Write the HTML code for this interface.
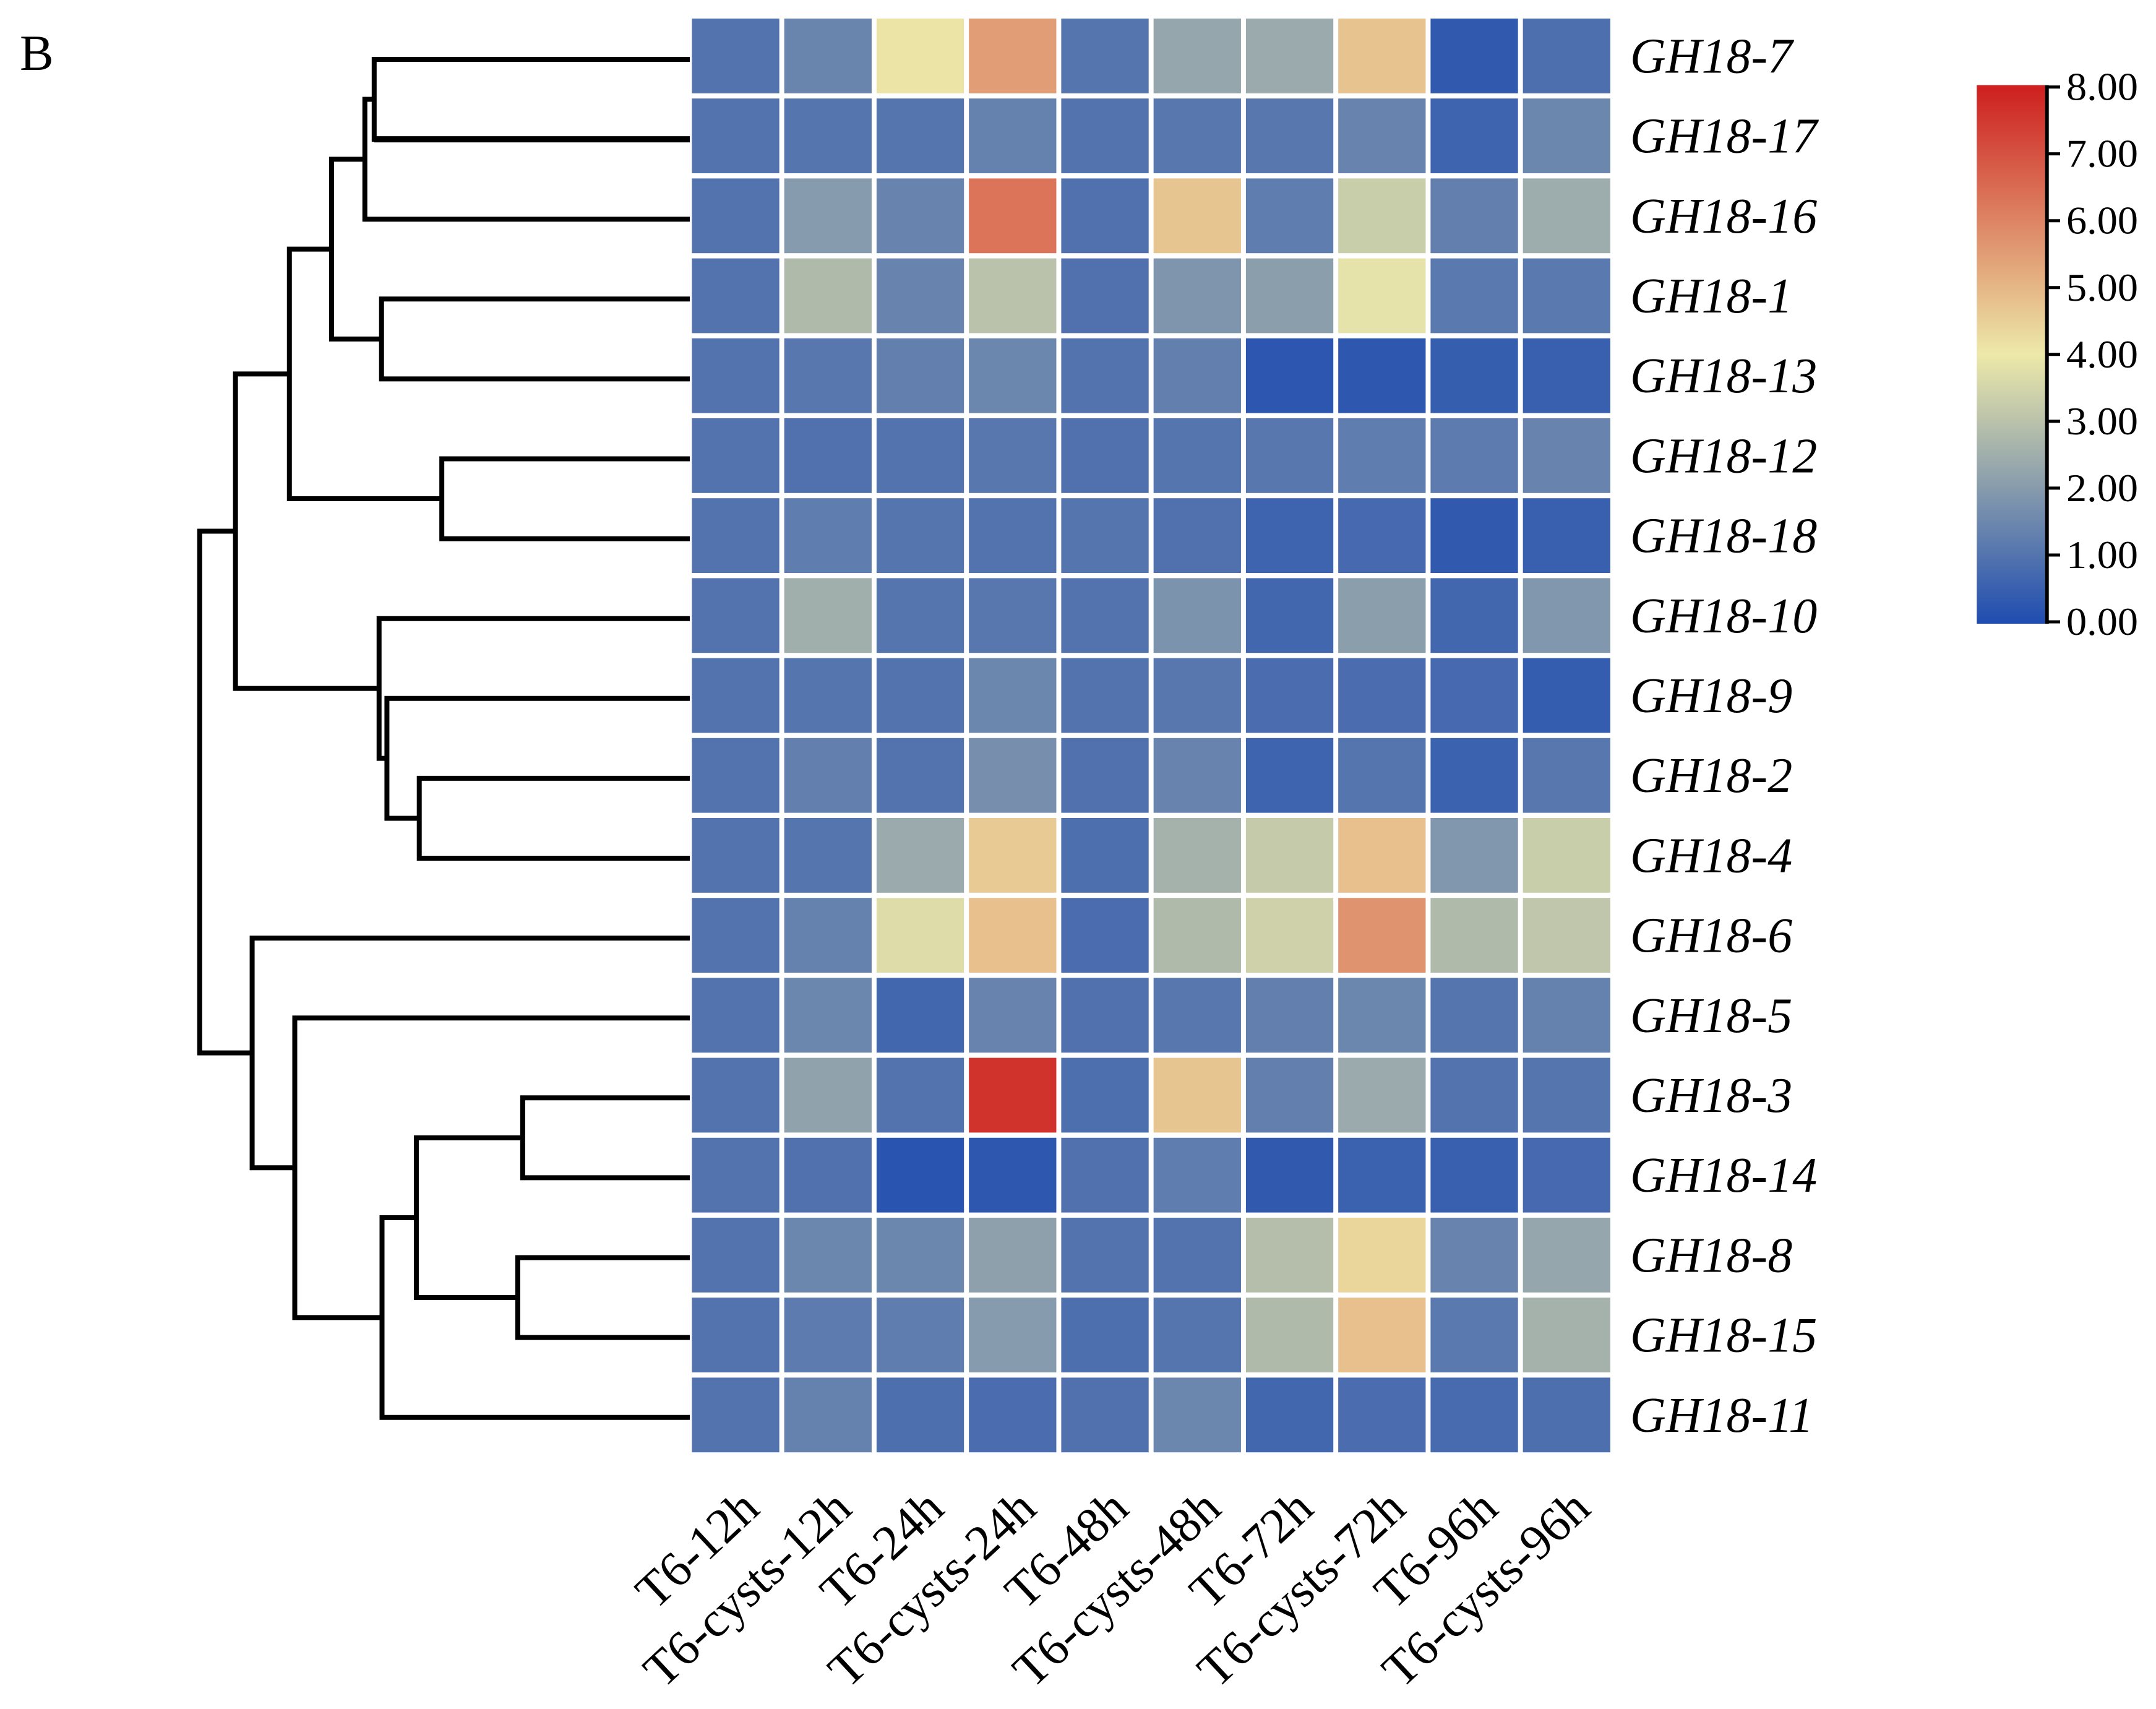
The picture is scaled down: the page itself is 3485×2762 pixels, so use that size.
<!DOCTYPE html>
<html lang="en">
<head>
<meta charset="utf-8">
<title>GH18 expression heatmap</title>
<style>
html,body{margin:0;padding:0;background:#fff;}
svg{display:block;}
text{font-family:"Liberation Serif",serif;fill:#000;}
</style>
</head>
<body>
<svg id="chart" xmlns="http://www.w3.org/2000/svg" width="3485" height="2762" viewBox="0 0 3485 2762">
  <rect x="0" y="0" width="3485" height="2762" fill="#ffffff"/>
  <text x="32" y="113" font-size="82">B</text>
  <g id="dendrogram"></g>
  <g id="cells"></g>
  <g id="rowLabels"></g>
  <g id="colLabels"></g>
  <g id="colorbar"></g>
</svg>
<script>
const rowNames = ['GH18-7','GH18-17','GH18-16','GH18-1','GH18-13','GH18-12','GH18-18','GH18-10','GH18-9','GH18-2','GH18-4','GH18-6','GH18-5','GH18-3','GH18-14','GH18-8','GH18-15','GH18-11'];
const colNames = ['T6-12h','T6-cysts-12h','T6-24h','T6-cysts-24h','T6-48h','T6-cysts-48h','T6-72h','T6-cysts-72h','T6-96h','T6-cysts-96h'];
const colorbarTicks = [0,1,2,3,4,5,6,7,8];
const values = [
  [1.0,1.45,4.1,5.5,1.05,2.3,2.4,4.75,0.35,0.9],
  [1.0,1.05,1.05,1.35,1.0,1.1,1.1,1.4,0.6,1.5],
  [1.0,2.0,1.4,6.3,0.95,4.7,1.25,3.3,1.3,2.45],
  [1.0,2.8,1.4,3.0,0.95,1.85,2.1,3.85,1.15,1.15],
  [1.0,1.1,1.3,1.5,1.0,1.3,0.25,0.3,0.45,0.5],
  [1.0,0.95,1.0,1.1,0.95,1.05,1.1,1.25,1.2,1.4],
  [1.0,1.25,1.05,1.0,1.05,0.95,0.6,0.75,0.35,0.5],
  [1.0,2.5,1.05,1.1,1.0,1.8,0.7,2.1,0.7,1.9],
  [1.0,1.05,1.0,1.5,1.0,1.1,0.85,0.85,0.75,0.4],
  [1.0,1.3,1.0,1.7,0.95,1.4,0.6,1.05,0.55,1.1],
  [1.0,1.05,2.4,4.6,0.9,2.6,3.2,4.8,1.9,3.3],
  [1.0,1.35,3.7,4.8,0.85,2.8,3.4,5.7,2.8,3.1],
  [1.0,1.5,0.7,1.4,0.95,1.1,1.3,1.5,1.05,1.35],
  [1.0,2.2,1.0,7.6,0.9,4.7,1.3,2.4,1.0,1.05],
  [1.0,0.95,0.2,0.3,0.95,1.25,0.35,0.55,0.5,0.75],
  [1.0,1.5,1.5,2.15,1.0,1.0,2.9,4.4,1.4,2.3],
  [1.0,1.2,1.25,2.0,0.9,1.05,2.8,4.8,1.15,2.6],
  [1.0,1.35,0.9,0.85,0.95,1.5,0.7,0.85,0.8,0.9]
];
/* Linkage: [childA, childB, distance]. Ids below 18 are leaves (rows); id 18+k is merge k. */
const linkage = [
  [0,1,0.644],[18,2,0.663],[3,4,0.629],[19,20,0.731],[5,6,0.506],[21,22,0.817],
  [9,10,0.552],[8,24,0.618],[7,25,0.634],[23,26,0.927],[13,14,0.341],[15,16,0.351],
  [28,29,0.558],[30,17,0.628],[12,31,0.806],[11,32,0.893],[27,33,1.0]
];

const NS = 'http://www.w3.org/2000/svg';
function mk(tag, parent, attrs){
  const el = document.createElementNS(NS, tag);
  for (const k in attrs) el.setAttribute(k, attrs[k]);
  parent.appendChild(el);
  return el;
}
/* Axis functions */
const cellW = 141.3, cellH = 120.8;
function xCell(c){ return 1118.4 + c * 149.25; }
function yCell(r){ return 30 + r * 129.2; }
function yLeaf(r){ return 96 + r * 129.1; }
function xDist(d){ return 1115 - d * 792.2; }
function yBar(v){ return 1005 - v * 108.05; }
const stops = [[31,76,176],[237,233,169],[205,30,30]];
function color(v){
  const t = Math.max(0, Math.min(8, v)) / 4;
  const i = t >= 1 ? 1 : 0;
  const f = t - i;
  const a = stops[i], b = stops[i + 1];
  return 'rgb(' + a.map((x, k) => Math.round(x + (b[k] - x) * f)).join(',') + ')';
}

/* Heatmap cells */
const cellsG = document.getElementById('cells');
values.forEach((row, r) => row.forEach((v, c) => {
  const el = mk('rect', cellsG, {x: xCell(c), y: yCell(r), width: cellW, height: cellH, fill: color(v)});
  
  
}));

/* Row labels */
const rowG = document.getElementById('rowLabels');
rowNames.forEach((name, r) => {
  const el = mk('text', rowG, {x: 2635, y: yCell(r) + cellH / 2 + 27, 'font-size': 80, 'font-style': 'italic'});
  el.textContent = name;
  
  
});

/* Column labels */
const colG = document.getElementById('colLabels');
colNames.forEach((name, c) => {
  const ax = xCell(c) + cellW / 2 + 42;
  const ay = 2443;
  const el = mk('text', colG, {x: ax, y: ay, 'font-size': 80, 'text-anchor': 'end', transform: 'rotate(-43 ' + ax + ' ' + ay + ')'});
  el.textContent = name;
  
  
});

/* Dendrogram */
const dendroG = document.getElementById('dendrogram');
const nodes = rowNames.map((n, i) => ({x: xDist(0), y: yLeaf(i)}));
linkage.forEach((m, k) => {
  const a = nodes[m[0]], b = nodes[m[1]];
  const x = xDist(m[2]);
  nodes.push({x: x, y: (a.y + b.y) / 2});
  const el = mk('path', dendroG, {
    d: 'M' + a.x + ' ' + a.y + 'L' + x + ' ' + a.y + 'L' + x + ' ' + b.y + 'L' + b.x + ' ' + b.y,
    fill: 'none', stroke: '#000', 'stroke-width': 8, 'stroke-linejoin': 'miter'
  });
  
  
  /* The GH18-17 leaf is drawn slightly heavier in the source figure */
  [m[0], m[1]].forEach(id => {
    if (id === 1) {
      const heavy = mk('line', dendroG, {x1: x, x2: xDist(0), y1: nodes[id].y, y2: nodes[id].y, stroke: '#000', 'stroke-width': 10});
      
      
    }
  });
});

/* Colorbar */
const cbG = document.getElementById('colorbar');
const defs = mk('defs', cbG, {});
const grad = mk('linearGradient', defs, {id: 'cbGrad', x1: 0, y1: 1, x2: 0, y2: 0});
[0,4,8].forEach(v => mk('stop', grad, {offset: (v / 8 * 100) + '%', 'stop-color': color(v)}));
const cbRect = mk('rect', cbG, {x: 3195.3, y: yBar(8) - 3, width: 110.4, height: yBar(0) - yBar(8) + 6, fill: 'url(#cbGrad)'});


const cbAxis = mk('line', cbG, {x1: 3308.7, x2: 3308.7, y1: yBar(8) - 3, y2: yBar(0) + 3, stroke: '#000', 'stroke-width': 6});


colorbarTicks.forEach(v => {
  const t = mk('line', cbG, {x1: 3308, x2: 3330, y1: yBar(v), y2: yBar(v), stroke: '#000', 'stroke-width': 5});
  
  
  const l = mk('text', cbG, {x: 3340, y: yBar(v) + 21, 'font-size': 64, textLength: 116, lengthAdjust: 'spacingAndGlyphs'});
  l.textContent = v.toFixed(2);
  
  
});
</script>
</body>
</html>
